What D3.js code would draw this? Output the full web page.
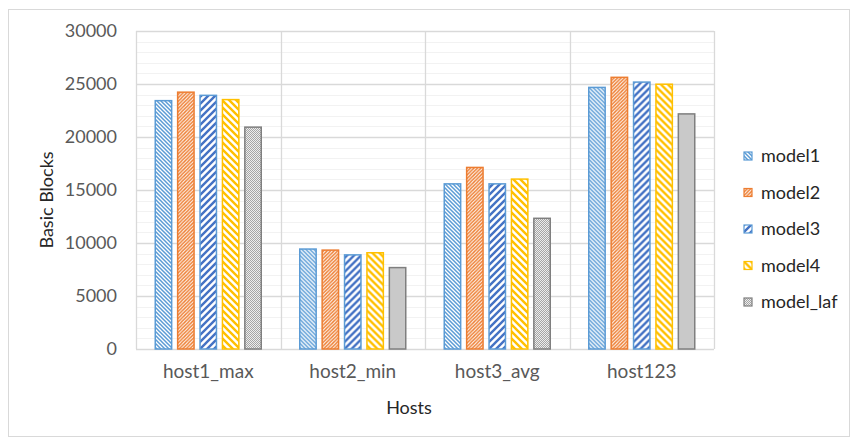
<!DOCTYPE html>
<html>
<head>
<meta charset="utf-8">
<script src="https://cdn.jsdelivr.net/npm/d3@7"></script>
<style>
  body { margin: 0; background: #fff; }
  text { font-family: Lato, "Liberation Sans", sans-serif; }
</style>
</head>
<body>
<svg id="chart" width="852" height="439"></svg>
<script>
// data
var hosts = ["host1_max", "host2_min", "host3_avg", "host123"];
var models = ["model1", "model2", "model3", "model4", "model_laf"];
var model1 = [23500, 9500, 15650, 24750];
var model2 = [24300, 9400, 17200, 25700];
var model3 = [24000, 8950, 15650, 25250];
var model4 = [23600, 9150, 16100, 25050];
var modelLaf = [21000, 7750, 12400, 22250];
var yTicks = [0, 5000, 10000, 15000, 20000, 25000, 30000];

var series = [model1, model2, model3, model4, modelLaf];

var svg = d3.select("#chart"),
    plot = {left: 136, top: 31, right: 714, bottom: 349};

// frame round the whole chart
svg.append("rect")
    .attr("x", 8.5).attr("y", 9.5)
    .attr("width", 841).attr("height", 427)
    .attr("fill", "none")
    .attr("stroke", "#d9d9d9");

var x0 = d3.scaleBand().domain(hosts).range([plot.left, plot.right]);
var x1 = d3.scaleBand().domain(models)
    .range([18.5, x0.bandwidth() - 18.5])
    .paddingInner(0.2);
var y = d3.scaleLinear().domain([0, 30000]).range([plot.bottom, plot.top]);

// fill patterns
var defs = svg.append("defs");
function stripes(id, color, size, width, up) {
  var p = defs.append("pattern")
      .attr("id", id)
      .attr("patternUnits", "userSpaceOnUse")
      .attr("width", size).attr("height", size);
  p.append("rect").attr("width", size).attr("height", size).attr("fill", "#fff");
  var d = up
    ? "M0," + size + "L" + size + ",0M-1,1L1,-1M" + (size - 1) + "," + (size + 1) + "L" + (size + 1) + "," + (size - 1)
    : "M0,0L" + size + "," + size + "M-1," + (size - 1) + "L1," + (size + 1) + "M" + (size - 1) + ",-1L" + (size + 1) + ",1";
  p.append("path").attr("d", d)
      .attr("stroke", color).attr("stroke-width", width).attr("stroke-linecap", "square");
}
stripes("p1", "#5b9bd5", 4, 1.5, false);
stripes("p2", "#ed7d31", 3.5, 1.4, true);
stripes("p3", "#4472c4", 7, 2.4, true);
stripes("p4", "#ffc000", 7, 2.4, false);
var dots = defs.append("pattern")
    .attr("id", "p5")
    .attr("patternUnits", "userSpaceOnUse")
    .attr("width", 2).attr("height", 2);
dots.append("rect").attr("width", 2).attr("height", 2).attr("fill", "#ededed");
dots.append("rect").attr("width", 1).attr("height", 1).attr("fill", "#a5a5a5");
dots.append("rect").attr("x", 1).attr("y", 1).attr("width", 1).attr("height", 1).attr("fill", "#a5a5a5");

var fills = ["url(#p1)", "url(#p2)", "url(#p3)", "url(#p4)", "url(#p5)"];
var borders = ["#5b9bd5", "#ed7d31", "#5b9bd5", "#ffc000", "#7f7f7f"];

// minor and major gridlines
svg.append("g").selectAll("line")
    .data(d3.range(0, 30001, 1000).filter(function(v) { return v % 5000 !== 0; }))
    .enter().append("line")
    .attr("x1", plot.left).attr("x2", plot.right)
    .attr("y1", function(d) { return Math.round(y(d)) + 0.5; })
    .attr("y2", function(d) { return Math.round(y(d)) + 0.5; })
    .attr("stroke", "#f2f2f2");

svg.append("g").selectAll("line")
    .data(x0.domain().map(function(h) { return x0(h); }).concat([plot.right]))
    .enter().append("line")
    .attr("x1", function(d) { return Math.round(d) + 0.5; })
    .attr("x2", function(d) { return Math.round(d) + 0.5; })
    .attr("y1", plot.top).attr("y2", plot.bottom)
    .attr("stroke", "#d9d9d9").attr("stroke-width", 1.3);

svg.append("g").selectAll("line")
    .data(yTicks)
    .enter().append("line")
    .attr("x1", plot.left).attr("x2", plot.right)
    .attr("y1", function(d) { return Math.round(y(d)) + 0.5; })
    .attr("y2", function(d) { return Math.round(y(d)) + 0.5; })
    .attr("stroke", "#d9d9d9").attr("stroke-width", 1.3);

// bars
var groups = svg.append("g").selectAll("g")
    .data(hosts)
    .enter().append("g")
    .attr("transform", function(h) { return "translate(" + x0(h) + ",0)"; });

groups.selectAll("rect")
    .data(function(h, i) {
      return models.map(function(m, j) { return {model: m, j: j, value: series[j][i]}; });
    })
    .enter().append("rect")
    .attr("x", function(d) { return x1(d.model) + 0.75; })
    .attr("y", function(d) { return y(d.value) + 0.75; })
    .attr("width", x1.bandwidth() - 1.5)
    .attr("height", function(d) { return plot.bottom - y(d.value) - 0.75; })
    .attr("fill", function(d) { return fills[d.j]; })
    .attr("stroke", function(d) { return borders[d.j]; })
    .attr("stroke-width", 1.5);

// axes
var yAxis = svg.append("g")
    .attr("transform", "translate(" + plot.left + ",0)")
    .call(d3.axisLeft(y).tickValues(yTicks).tickFormat(d3.format("d")).tickSize(0).tickPadding(19));
yAxis.select(".domain").remove();
yAxis.selectAll("text")
    .attr("fill", "#595959")
    .style("font-size", "18px");

var xAxis = svg.append("g")
    .attr("transform", "translate(0," + plot.bottom + ")")
    .call(d3.axisBottom(x0).tickSize(0).tickPadding(16));
xAxis.select(".domain").remove();
xAxis.selectAll("text")
    .attr("fill", "#595959")
    .style("font-size", "19px");

svg.append("text")
    .attr("transform", "translate(53,200) rotate(-90)")
    .attr("text-anchor", "middle")
    .attr("fill", "#262626")
    .style("font-size", "18px")
    .text("Basic Blocks");

svg.append("text")
    .attr("x", 409)
    .attr("y", 414)
    .attr("text-anchor", "middle")
    .attr("fill", "#262626")
    .style("font-size", "18px")
    .text("Hosts");

// legend
var legend = svg.append("g").selectAll("g")
    .data(models)
    .enter().append("g")
    .attr("transform", function(m, i) { return "translate(744," + (152 + i * 36.5) + ")"; });

legend.append("rect")
    .attr("width", 8).attr("height", 8)
    .attr("fill", function(m, i) { return fills[i]; })
    .attr("stroke", function(m, i) { return borders[i]; })
    .attr("stroke-width", 1.2);

legend.append("text")
    .attr("x", 17).attr("y", 4)
    .attr("dy", "0.35em")
    .attr("fill", "#262626")
    .style("font-size", "18px")
    .text(function(m) { return m; });
</script>
</body>
</html>
